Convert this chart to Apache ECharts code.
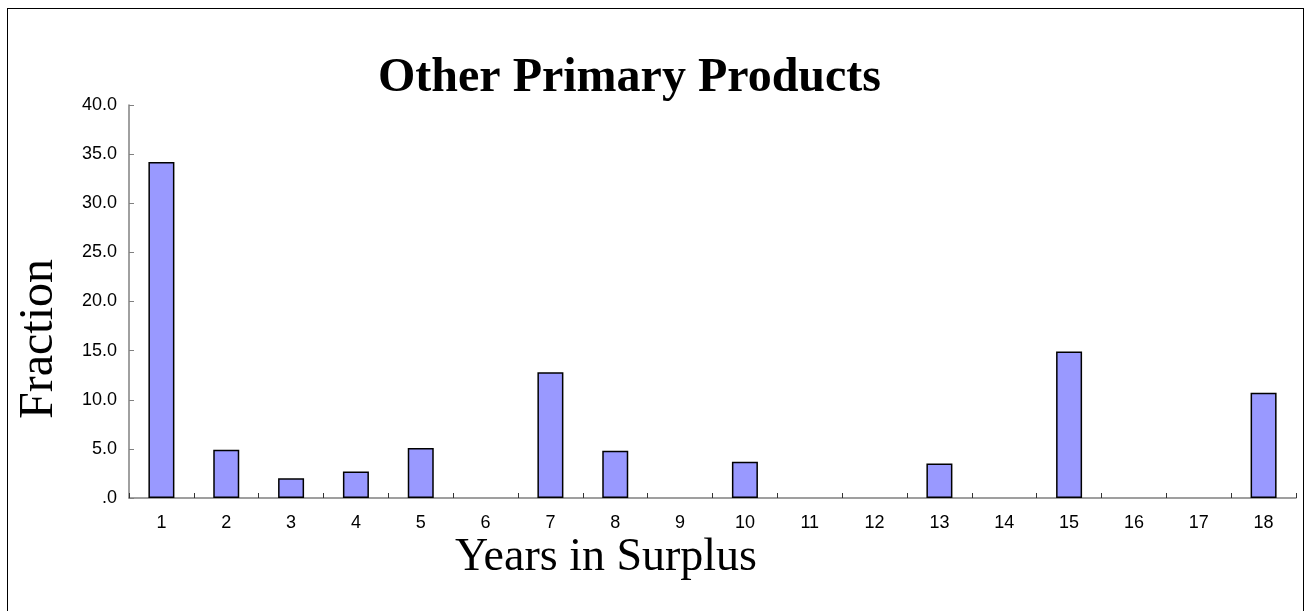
<!DOCTYPE html>
<html>
<head>
<meta charset="utf-8">
<script src="https://cdn.jsdelivr.net/npm/echarts@6/dist/echarts.min.js"></script>
<style>
  html, body { margin: 0; padding: 0; background: #fff; }
  #frame { position: absolute; left: 7px; top: 8px; width: 1297px; height: 640px; border: 1.5px solid #000; box-sizing: border-box; }
  #main { position: absolute; left: 0; top: 0; width: 1308px; height: 611px; }
</style>
</head>
<body>
<div id="frame"></div>
<div id="main"></div>
<script>
  // years in surplus (categories) and fraction of countries
  const years = ['1','2','3','4','5','6','7','8','9','10','11','12','13','14','15','16','17','18'];
  const fraction = [34.2, 4.9, 2.0, 2.7, 5.1, 0, 12.8, 4.8, 0, 3.7, 0, 0, 3.5, 0, 14.9, 0, 0, 10.7];

  const myChart = echarts.init(document.getElementById('main'));
  const option = {
    animation: false,
    title: {
      text: 'Other Primary Products',
      left: 373,
      top: 50,
      textStyle: { fontFamily: 'Liberation Serif', fontWeight: 'bold', fontSize: 48, color: '#000' }
    },
    grid: { left: 129, right: 12, top: 105, bottom: 113, containLabel: false, outerBoundsMode: 'none' },
    xAxis: {
      type: 'category',
      data: years,
      axisLine: { lineStyle: { color: '#808080', width: 1.5 } },
      axisTick: { show: true, length: 5, inside: true, lineStyle: { color: '#333' } },
      axisLabel: { fontFamily: 'Liberation Sans', fontSize: 18, color: '#000', margin: 16 }
    },
    yAxis: {
      type: 'value',
      min: 0,
      max: 40,
      interval: 5,
      splitLine: { show: false },
      axisLine: { show: true, lineStyle: { color: '#808080', width: 1.5 } },
      axisTick: { show: true, length: 5, inside: true, lineStyle: { color: '#808080' } },
      axisLabel: {
        fontFamily: 'Liberation Sans', fontSize: 18, color: '#000', margin: 12,
        formatter: function (v) { return v === 0 ? '.0' : v.toFixed(1); }
      }
    },
    graphic: [
      {
        type: 'text', x: 39, y: 339, rotation: Math.PI / 2,
        style: { text: 'Fraction', font: '48px "Liberation Serif"', fill: '#000', align: 'center', verticalAlign: 'middle' }
      },
      {
        type: 'text', x: 606, y: 558,
        style: { text: 'Years in Surplus', font: '46px "Liberation Serif"', fill: '#000', align: 'center', verticalAlign: 'middle' }
      }
    ],
    series: [{
      type: 'bar',
      // empty categories get no outline so nothing is drawn for them
      data: fraction.map(function (v) {
        return v === 0 ? { value: v, itemStyle: { borderWidth: 0 } } : v;
      }),
      barWidth: 26,
      itemStyle: { color: '#9999FF', borderColor: '#000', borderWidth: 1.5 }
    }]
  };
  myChart.setOption(option);
</script>
</body>
</html>
